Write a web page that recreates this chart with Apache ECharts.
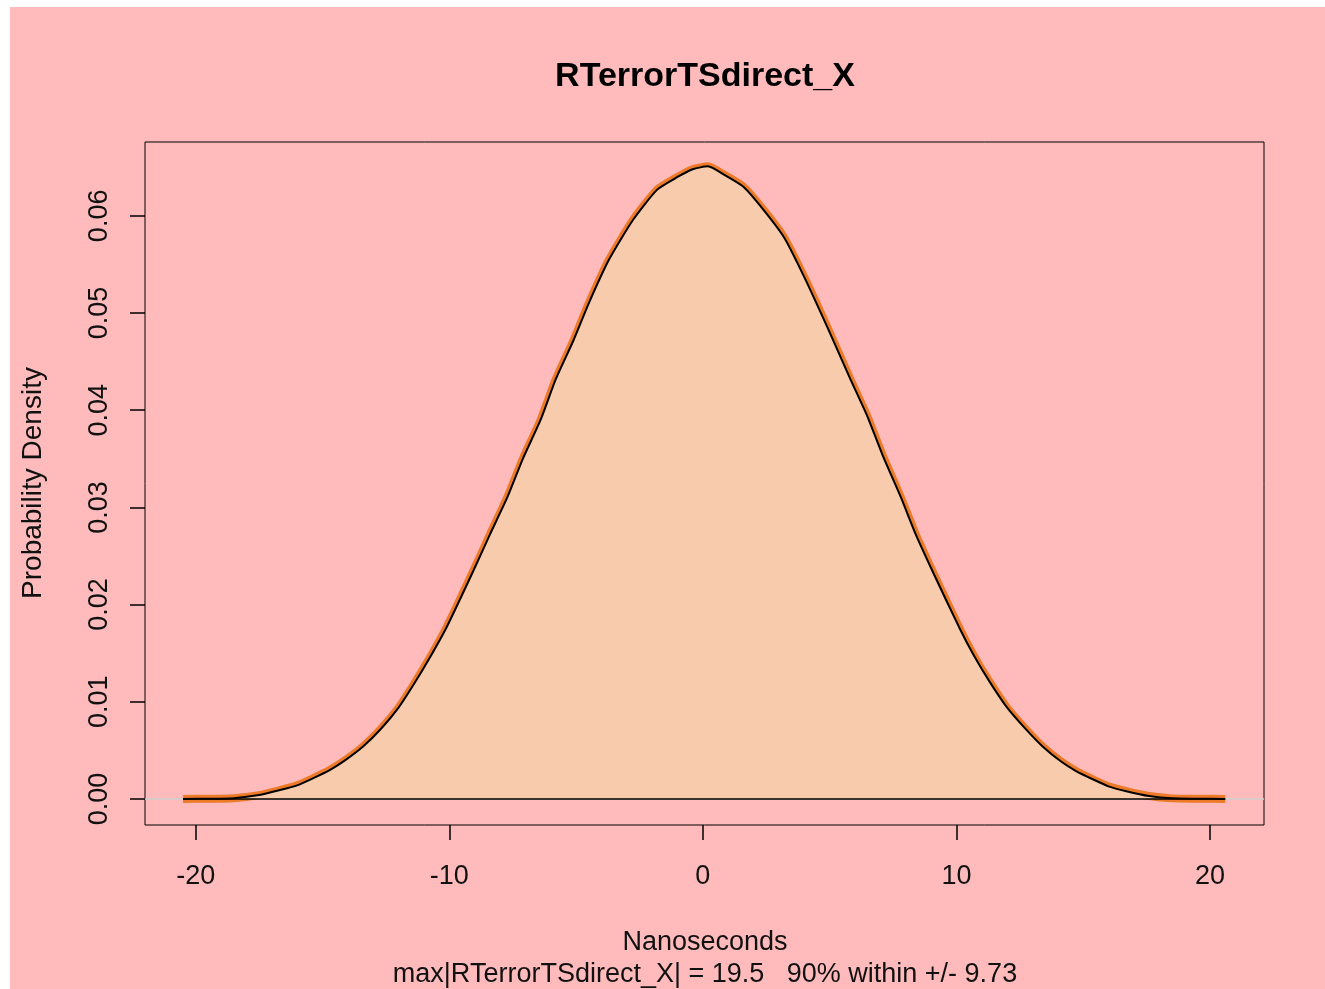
<!DOCTYPE html>
<html>
<head>
<meta charset="utf-8">
<title>RTerrorTSdirect_X</title>
<script src="https://cdn.jsdelivr.net/npm/echarts@6/dist/echarts.min.js"></script>
<style>
  html, body { margin: 0; padding: 0; background: #ffffff; }
  .paper { position: absolute; left: 10px; top: 7px; width: 1315px; height: 982px; background: #FFBBBC; }
  #main { position: absolute; left: 0; top: 0; width: 1325px; height: 989px; }
</style>
</head>
<body>
<div class="paper"></div>
<div id="main"></div>
<script>
// density estimate (nanoseconds -> probability density)
const xValues = [
  -20.5, -19.5, -18.5, -17.5, -16.7, -16.0, -15.4, -14.7, -14.1, -13.4,
  -12.7, -12.0, -11.4, -10.8, -10.1, -9.1, -8.4, -7.7, -7.1, -6.4,
  -5.8, -5.1, -4.5, -3.7, -2.75, -1.8, -1.0, -0.4, 0.2, 0.8,
  1.6, 2.4, 3.2, 4.0, 4.9, 5.8, 6.5, 7.1, 7.8, 8.4,
  9.1, 10.1, 10.7, 11.3, 12.0, 12.8, 13.4, 14.1, 14.7, 15.4,
  16.0, 16.7, 17.6, 18.5, 19.5, 20.6
];
const densityValues = [
  0.0, 0.00002, 0.00008, 0.0004, 0.0009, 0.0014, 0.0021, 0.0030, 0.0040, 0.0054,
  0.0072, 0.0094, 0.0118, 0.0144, 0.0177, 0.0232, 0.0272, 0.0311, 0.0350, 0.0390,
  0.0432, 0.0472, 0.0510, 0.0555, 0.0596, 0.0627, 0.0640, 0.0648, 0.0651, 0.0643,
  0.0630, 0.0606, 0.0578, 0.0537, 0.0486, 0.0433, 0.0393, 0.0353, 0.0311, 0.0272,
  0.0232, 0.0177, 0.0147, 0.0121, 0.0094, 0.0070, 0.0054, 0.0039, 0.0029, 0.0020,
  0.0013, 0.0008, 0.0003, 0.00006, 0.00002, 0.0
];
const xTicks = [-20, -10, 0, 10, 20];
const yTicks = [0, 0.01, 0.02, 0.03, 0.04, 0.05, 0.06];
const xMin = -22.0, xMax = 22.13;
const yMin = -0.00268, yMax = 0.0676;

const chartTitle = 'RTerrorTSdirect_X';
const xLabel = 'Nanoseconds';
const yLabel = 'Probability Density';
const subLabel = 'max|RTerrorTSdirect_X| = 19.5   90% within +/- 9.73';

const curve = xValues.map((x, i) => [x, densityValues[i]]);
const baseline = [[xValues[0], 0], [xValues[xValues.length - 1], 0]];
const zeroLine = [[xMin, 0], [xMax, 0]];

const font = '"Liberation Sans", Arial, sans-serif';

const myChart = echarts.init(document.getElementById('main'));

const option = {
  backgroundColor: 'transparent',
  animation: false,
  grid: {
    left: 145, top: 142, right: 61, bottom: 164,
    show: true, borderColor: '#000', borderWidth: 1, backgroundColor: 'transparent'
  },
  xAxis: {
    type: 'value', min: xMin, max: xMax, position: 'bottom',
    axisLine: { show: false, onZero: false },
    splitLine: { show: false },
    axisTick: { show: true, inside: false, length: 15, lineStyle: { color: '#000', width: 1.5 }, customValues: xTicks },
    axisLabel: {
      customValues: xTicks, margin: 38, color: '#111', fontSize: 27, fontFamily: font
    }
  },
  yAxis: {
    type: 'value', min: yMin, max: yMax, position: 'left',
    axisLine: { show: false, onZero: false },
    splitLine: { show: false },
    axisTick: { show: true, inside: false, length: 15, lineStyle: { color: '#000', width: 1.5 }, customValues: yTicks },
    axisLabel: {
      customValues: yTicks, rotate: 90, margin: 32, color: '#111', fontSize: 27, fontFamily: font,
      formatter: v => v.toFixed(2)
    }
  },
  series: [
    {
      // gray abline at zero
      type: 'line', data: zeroLine, showSymbol: false,
      lineStyle: { color: '#CFCFCF', width: 1.5 }, z: 1
    },
    {
      // thick orange outline, inner half later covered by the fill
      type: 'line', data: curve, showSymbol: false, smooth: 0.2,
      lineStyle: { color: '#EC7A28', width: 8, join: 'round' }, z: 2
    },
    {
      type: 'line', data: curve, showSymbol: false, smooth: 0.2,
      lineStyle: { width: 0, opacity: 0 },
      areaStyle: { color: '#F7CBAB', origin: 0, opacity: 1 },
      z: 3
    },
    {
      type: 'line', data: baseline, showSymbol: false,
      lineStyle: { color: '#000', width: 1.5 }, z: 4
    },
    {
      type: 'line', data: curve, showSymbol: false, smooth: 0.2,
      lineStyle: { color: '#000', width: 2 }, z: 5
    }
  ],
  graphic: [
    {
      type: 'text', x: 705, y: 77,
      style: { text: chartTitle, font: 'bold 34px ' + font, fill: '#000', align: 'center', verticalAlign: 'middle' }
    },
    {
      type: 'text', x: 705, y: 943,
      style: { text: xLabel, font: '27px ' + font, fill: '#111', align: 'center', verticalAlign: 'middle' }
    },
    {
      type: 'text', x: 705, y: 975,
      style: { text: subLabel, font: '27px ' + font, fill: '#111', align: 'center', verticalAlign: 'middle' }
    },
    {
      type: 'text', x: 33, y: 483, rotation: Math.PI / 2,
      style: { text: yLabel, font: '28px ' + font, fill: '#111', align: 'center', verticalAlign: 'middle' }
    }
  ]
};

myChart.setOption(option);
</script>
</body>
</html>
